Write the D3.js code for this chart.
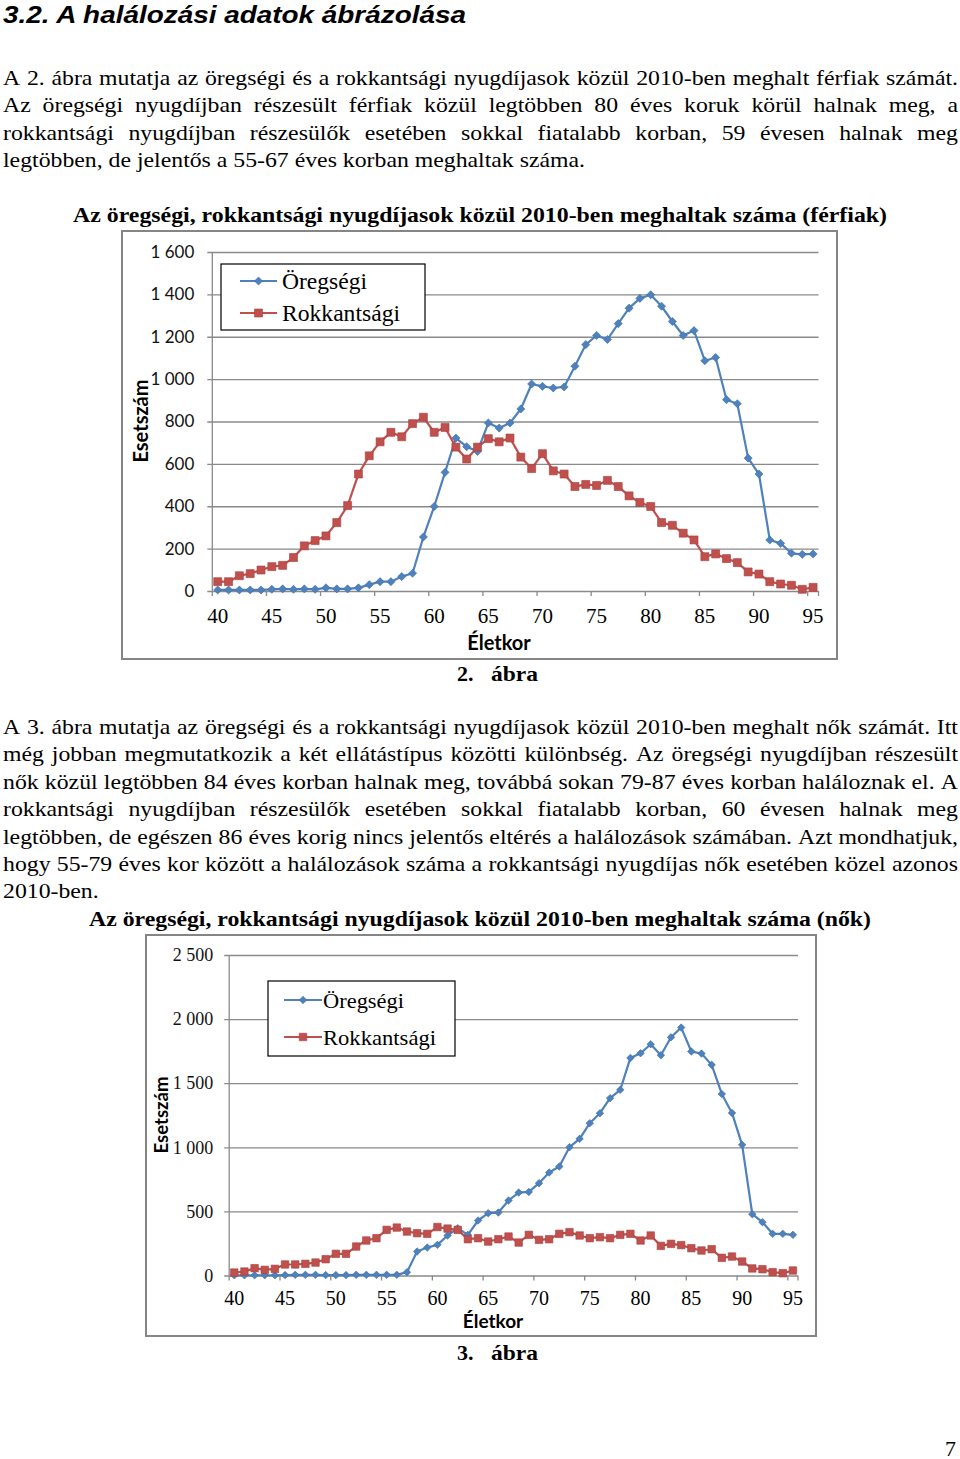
<!DOCTYPE html>
<html lang="hu"><head><meta charset="utf-8">
<script src="https://cdn.jsdelivr.net/npm/d3@7/dist/d3.min.js"></script>
<style>html,body{margin:0;padding:0;background:#fff}svg{display:block}</style>
</head><body>
<script>
// ---------------- DATA ----------------
const ages = [40,41,42,43,44,45,46,47,48,49,50,51,52,53,54,55,56,57,58,59,60,61,62,63,64,65,66,67,68,69,70,71,72,73,74,75,76,77,78,79,80,81,82,83,84,85,86,87,88,89,90,91,92,93,94,95];
const xTickLabels = [40,45,50,55,60,65,70,75,80,85,90,95];
const yTicksMen = [0,200,400,600,800,1000,1200,1400,1600];
const yTicksWomen = [0,500,1000,1500,2000,2500];
const seriesNames = ["Öregségi","Rokkantsági"];

// Férfiak (2. ábra)
const menOld = [5,5,5,5,5,8,10,8,10,8, 15,10,10,15,30,44,44,68,84,255, 399,560,722,681,659,793,769,793,859,977, 966,958,963,1061,1163,1206,1187,1262,1335,1381, 1398,1344,1272,1206,1229,1087,1102,903,884,627, 552,241,225,178,173,175];
const menDis = [44,44,72,82,99,115,121,158,213,238, 260,323,403,552,638,704,749,728,790,820, 749,772,679,623,679,719,704,722,632,578, 648,567,552,493,503,498,522,493,449,418, 399,323,310,273,241,162,175,153,134,90, 80,44,33,27,8,17];
// Nők (3. ábra)
const womenOld = [2,2,2,2,2,3,5,5,5,3, 3,3,5,5,5,5,5,26,187,218, 239,312,369,317,429,486,491,585,647,652, 720,803,850,1001,1066,1188,1266,1383,1448,1697, 1734,1804,1718,1858,1934,1747,1731,1643,1416,1268, 1019,478,416,325,325,317];
const womenDis = [23,31,57,44,52,86,86,91,101,127, 169,169,226,273,291,356,374,343,330,325, 378,366,356,283,291,265,283,304,257,317, 278,283,325,338,312,291,299,291,317,325, 273,312,231,247,237,213,195,205,138,148, 109,55,49,26,18,39];

// ---------------- TEXT ----------------
const heading = "3.2. A halálozási adatok ábrázolása";
const para1 = [
 "A 2. ábra mutatja az öregségi és a rokkantsági nyugdíjasok közül 2010-ben meghalt férfiak számát.",
 "Az öregségi nyugdíjban részesült férfiak közül legtöbben 80 éves koruk körül halnak meg, a",
 "rokkantsági nyugdíjban részesülők esetében sokkal fiatalabb korban, 59 évesen halnak meg",
 "legtöbben, de jelentős a 55-67 éves korban meghaltak száma."
];
const para2 = [
 "A 3. ábra mutatja az öregségi és a rokkantsági nyugdíjasok közül 2010-ben meghalt nők számát. Itt",
 "még jobban megmutatkozik a két ellátástípus közötti különbség. Az öregségi nyugdíjban részesült",
 "nők közül legtöbben 84 éves korban halnak meg, továbbá sokan 79-87 éves korban haláloznak el. A",
 "rokkantsági nyugdíjban részesülők esetében sokkal fiatalabb korban, 60 évesen halnak meg",
 "legtöbben, de egészen 86 éves korig nincs jelentős eltérés a halálozások számában. Azt mondhatjuk,",
 "hogy 55-79 éves kor között a halálozások száma a rokkantsági nyugdíjas nők esetében közel azonos",
 "2010-ben."
];
const title1 = "Az öregségi, rokkantsági nyugdíjasok közül 2010-ben meghaltak száma (férfiak)";
const title2 = "Az öregségi, rokkantsági nyugdíjasok közül 2010-ben meghaltak száma (nők)";
const caption1 = ["2.", "ábra"];
const caption2 = ["3.", "ábra"];
const yAxisTitle = "Esetszám";
const xAxisTitle = "Életkor";
const pageNumber = "7";

// ---------------- DRAW ----------------
const svg = d3.select("body").append("svg").attr("width", 960).attr("height", 1459);

function rawWidth(str, family, size, weight) {
  const t = svg.append("text").attr("font-family", family).attr("font-size", size)
    .attr("font-weight", weight || "normal").style("white-space", "pre").text(str);
  const w = t.node().getComputedTextLength();
  t.remove();
  return w;
}
function pickFont(cands, generic) {
  const probe = "mmmmwwwwiiiillll0123 Öő";
  for (const c of cands) {
    const a1 = rawWidth(probe, `"${c}", monospace`, 40), b1 = rawWidth(probe, "monospace", 40);
    const a2 = rawWidth(probe, `"${c}", cursive`, 40), b2 = rawWidth(probe, "cursive", 40);
    if (Math.abs(a1 - b1) > 0.5 || Math.abs(a2 - b2) > 0.5) return `"${c}", ${generic}`;
  }
  return generic;
}
const SERIF = pickFont(["Liberation Serif", "Tinos", "Times New Roman", "Nimbus Roman", "Nimbus Roman No9 L", "FreeSerif", "Noto Serif", "DejaVu Serif Condensed", "DejaVu Serif"], "serif");
const SANS = pickFont(["Lato", "Carlito", "Open Sans", "Noto Sans", "Liberation Sans"], "sans-serif");
const ARIAL = pickFont(["Liberation Sans", "Arimo", "Arial", "Noto Sans"], "sans-serif");

const BLUE = "#4F81BD", BLUE_D = "#3b6ea8";
const RED = "#C0504D", RED_D = "#a8403d";
const GRID = "#8a8a8a";

function measure(str, family, size, weight) { return rawWidth(str, family, size, weight); }

// Heading
svg.append("text").attr("x", 3).attr("y", 23).attr("font-family", ARIAL)
  .attr("font-size", 23).attr("font-weight", "bold").attr("font-style", "italic")
  .attr("textLength", 463).attr("lengthAdjust", "spacingAndGlyphs").text(heading);

// Paragraphs (justified, condensed Times-like)
const FS = 22;
const kComp = 582 / measure(para1[para1.length - 1], SERIF, FS);
function paragraph(lines, base0, lh) {
  const g = svg.append("g").attr("font-family", SERIF).attr("font-size", FS).attr("fill", "#000");
  lines.forEach((ln, i) => {
    const y = base0 + i * lh;
    if (i === lines.length - 1) {
      const w = measure(ln, SERIF, FS) * kComp;
      g.append("text").attr("x", 3).attr("y", y).attr("textLength", w)
        .attr("lengthAdjust", "spacingAndGlyphs").style("white-space", "pre").text(ln);
    } else {
      const words = ln.split(" ");
      const ws = words.map(w => measure(w, SERIF, FS) * kComp);
      const total = d3.sum(ws);
      const gap = (958 - 3 - total) / (words.length - 1);
      let x = 3;
      words.forEach((w, j) => {
        g.append("text").attr("x", x).attr("y", y).attr("textLength", ws[j])
          .attr("lengthAdjust", "spacingAndGlyphs").text(w);
        x += ws[j] + gap;
      });
    }
  });
}
paragraph(para1, 85, 27.4);
paragraph(para2, 734, 27.4);

// Titles
svg.append("text").attr("x", 73).attr("y", 222).attr("font-family", SERIF).attr("font-size", 22)
  .attr("font-weight", "bold").attr("textLength", 814).attr("lengthAdjust", "spacingAndGlyphs").text(title1);
svg.append("text").attr("x", 89).attr("y", 926).attr("font-family", SERIF).attr("font-size", 22)
  .attr("font-weight", "bold").attr("textLength", 782).attr("lengthAdjust", "spacingAndGlyphs").text(title2);

// Captions
function caption(parts, y) {
  svg.append("text").attr("x", 457).attr("y", y).attr("font-family", SERIF).attr("font-size", 22)
    .attr("font-weight", "bold").text(parts[0]);
  svg.append("text").attr("x", 491).attr("y", y).attr("font-family", SERIF).attr("font-size", 22)
    .attr("font-weight", "bold").attr("textLength", 47).attr("lengthAdjust", "spacingAndGlyphs").text(parts[1]);
}
caption(caption1, 681);
caption(caption2, 1360);

svg.append("text").attr("x", 956).attr("y", 1456).attr("text-anchor", "end")
  .attr("font-family", SERIF).attr("font-size", 22).text(pageNumber);

const fmt = d => d3.format(",")(d).replace(/,/g, "\u00a0");

function drawChart(cfg) {
  const g = svg.append("g");
  g.append("rect").attr("x", cfg.frame[0]).attr("y", cfg.frame[1])
    .attr("width", cfg.frame[2] - cfg.frame[0]).attr("height", cfg.frame[3] - cfg.frame[1])
    .attr("fill", "#fff").attr("stroke", "#858585").attr("stroke-width", 2);

  const x = d3.scaleBand().domain(ages).range([cfg.left, cfg.right]);
  const bw = x.bandwidth();
  const cx = a => x(a) + bw / 2;
  const y = d3.scaleLinear().domain([0, cfg.yMax]).range([cfg.bottom, cfg.top]);

  // y axis + gridlines
  const ya = g.append("g").attr("transform", `translate(${cfg.right},0)`)
    .call(d3.axisLeft(y).tickValues(cfg.yTicks).tickSizeInner(cfg.right - cfg.left + 5)
      .tickSizeOuter(0).tickPadding(cfg.yPad).tickFormat(fmt));
  ya.select(".domain").remove();
  ya.selectAll(".tick line").attr("stroke", GRID).attr("stroke-width", 1.3);
  ya.selectAll(".tick text").attr("font-family", cfg.yFont).attr("font-size", cfg.yFs).attr("fill", "#111");

  g.append("line").attr("x1", cfg.left).attr("x2", cfg.left).attr("y1", y(cfg.yMax)).attr("y2", y(0))
    .attr("stroke", GRID).attr("stroke-width", 1.3);

  // x tick marks at category boundaries
  g.selectAll(".xt").data(xTickLabels).join("line")
    .attr("x1", d => x(d)).attr("x2", d => x(d)).attr("y1", y(0)).attr("y2", y(0) + 5)
    .attr("stroke", GRID).attr("stroke-width", 1.3);
  g.append("line").attr("x1", cfg.right).attr("x2", cfg.right).attr("y1", y(0)).attr("y2", y(0) + 5)
    .attr("stroke", GRID).attr("stroke-width", 1.3);

  // x labels
  const xa = g.append("g").attr("transform", `translate(0,${cfg.bottom})`)
    .call(d3.axisBottom(x).tickValues(xTickLabels).tickSize(0).tickPadding(cfg.xPad));
  xa.select(".domain").remove();
  xa.selectAll(".tick text").attr("font-family", SERIF).attr("font-size", cfg.xFs).attr("fill", "#000");

  // axis titles
  g.append("text").attr("transform", `translate(${cfg.yTitle[0]},${cfg.yTitle[1]}) rotate(-90)`)
    .attr("text-anchor", "middle").attr("dy", "0.35em").attr("font-family", SANS).attr("font-weight", "bold")
    .attr("font-size", cfg.yTitleFs).attr("fill", "#000").text(yAxisTitle);
  g.append("text").attr("x", cfg.xTitle[0]).attr("y", cfg.xTitle[1]).attr("text-anchor", "middle")
    .attr("font-family", SANS).attr("font-weight", "bold").attr("font-size", cfg.xTitleFs)
    .attr("fill", "#000").text(xAxisTitle);

  // series
  const line = d3.line().x((d, i) => cx(ages[i])).y(d => y(d));
  const series = [
    {vals: cfg.old, color: BLUE, dark: BLUE_D, sym: d3.symbolDiamond2, size: cfg.diaSize},
    {vals: cfg.dis, color: RED, dark: RED_D, sym: d3.symbolSquare, size: cfg.sqSize}
  ];
  series.forEach(s => {
    g.append("path").datum(s.vals).attr("d", line).attr("fill", "none")
      .attr("stroke", s.color).attr("stroke-width", 2.2).attr("stroke-linejoin", "round");
    g.append("g").selectAll("path").data(s.vals).join("path")
      .attr("transform", (d, i) => `translate(${cx(ages[i])},${y(d)})`)
      .attr("d", d3.symbol().type(s.sym).size(s.size))
      .attr("fill", s.color).attr("stroke", s.dark).attr("stroke-width", 0.6);
  });

  // legend
  const L = cfg.legend;
  const lg = g.append("g");
  lg.append("rect").attr("x", L.box[0]).attr("y", L.box[1]).attr("width", L.box[2] - L.box[0])
    .attr("height", L.box[3] - L.box[1]).attr("fill", "#fff").attr("stroke", "#000").attr("stroke-width", 1.2);
  series.forEach((s, i) => {
    const ry = L.rows[i];
    lg.append("line").attr("x1", L.lx[0]).attr("x2", L.lx[1]).attr("y1", ry).attr("y2", ry)
      .attr("stroke", s.color).attr("stroke-width", 2.2);
    lg.append("path").attr("transform", `translate(${(L.lx[0] + L.lx[1]) / 2},${ry})`)
      .attr("d", d3.symbol().type(s.sym).size(s.size)).attr("fill", s.color)
      .attr("stroke", s.dark).attr("stroke-width", 0.6);
    lg.append("text").attr("x", L.tx).attr("y", ry + L.dy).attr("font-family", SERIF)
      .attr("font-size", L.fs).attr("fill", "#000")
      .attr("textLength", L.tw[i]).attr("lengthAdjust", "spacingAndGlyphs").text(seriesNames[i]);
  });
}

drawChart({
  frame: [122, 231, 837, 659],
  left: 212.3, right: 818.5, top: 252, bottom: 591, yMax: 1600, yTicks: yTicksMen,
  yPad: 13, yFont: SANS, yFs: 17, xPad: 17, xFs: 21,
  yTitle: [141, 421], yTitleFs: 20, xTitle: [499, 650], xTitleFs: 20,
  old: menOld, dis: menDis, diaSize: 42, sqSize: 64,
  legend: {box: [221, 264, 425, 330], rows: [281, 313], lx: [240, 277], tx: 282, dy: 8, fs: 23, tw: [85, 118]}
});

drawChart({
  frame: [146, 935, 816, 1336],
  left: 229.2, right: 798, top: 955, bottom: 1275.5, yMax: 2500, yTicks: yTicksWomen,
  yPad: 11, yFont: SERIF, yFs: 18, xPad: 15, xFs: 20,
  yTitle: [162, 1115], yTitleFs: 18.5, xTitle: [493, 1328], xTitleFs: 19,
  old: womenOld, dis: womenDis, diaSize: 36, sqSize: 56,
  legend: {box: [268, 981, 455, 1056], rows: [1000, 1037], lx: [284, 322], tx: 323, dy: 8, fs: 22, tw: [81, 113]}
});
</script>
</body></html>
